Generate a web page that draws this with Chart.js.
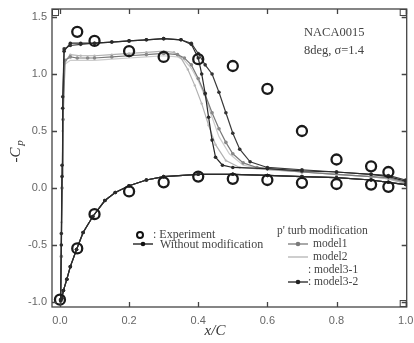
<!DOCTYPE html>
<html>
<head>
<meta charset="utf-8">
<script src="https://cdn.jsdelivr.net/npm/chart.js@4"></script>
<style>
  html, body { margin: 0; padding: 0; background: #fff; }
  canvas { display: block; }
</style>
</head>
<body>
<canvas id="cp" width="414" height="343"></canvas>
<script>
// tick values
const xTicks = [0, 0.2, 0.4, 0.6, 0.8, 1.0]
const yTicks = [-1.0, -0.5, 0.0, 0.5, 1.0, 1.5]

// experiment (open circles)
const expUpperX = [0.05, 0.1, 0.2, 0.3, 0.4, 0.5, 0.6, 0.7, 0.8, 0.9, 0.95]
const expUpperY = [1.37, 1.29, 1.20, 1.15, 1.13, 1.07, 0.87, 0.50, 0.25, 0.19, 0.14]
const expLowerX = [0.0, 0.05, 0.1, 0.2, 0.3, 0.4, 0.5, 0.6, 0.7, 0.8, 0.9, 0.95]
const expLowerY = [-0.98, -0.53, -0.23, -0.03, 0.05, 0.10, 0.08, 0.07, 0.045, 0.035, 0.03, 0.01]

// lower (pressure) side, common to all computations, trailing edge -> leading edge
const lowerX = [1.0, 0.95, 0.9, 0.8, 0.7, 0.6, 0.5, 0.4, 0.3, 0.25, 0.2, 0.16, 0.13, 0.095, 0.067, 0.048, 0.03, 0.02, 0.01, 0.005, 0.002]
const lowerY = [0.03, 0.05, 0.07, 0.09, 0.10, 0.11, 0.12, 0.12, 0.10, 0.07, 0.02, -0.04, -0.11, -0.25, -0.39, -0.54, -0.69, -0.80, -0.90, -0.97, -0.99]

// upper (suction) side of each computation, leading edge -> trailing edge
const noModX = [0.002, 0.004, 0.006, 0.008, 0.012, 0.03, 0.06, 0.1, 0.15, 0.2, 0.25, 0.3, 0.35, 0.38, 0.40, 0.41, 0.42, 0.43, 0.44, 0.45, 0.47, 0.5, 0.6, 0.7, 0.8, 0.9, 0.95, 1.0]
const noModY = [-0.98, -0.5, 0.1, 0.7, 1.2, 1.27, 1.27, 1.27, 1.28, 1.29, 1.30, 1.31, 1.30, 1.26, 1.14, 1.0, 0.83, 0.62, 0.42, 0.27, 0.20, 0.18, 0.17, 0.15, 0.14, 0.12, 0.10, 0.06]

const model1X = [0.002, 0.004, 0.006, 0.009, 0.015, 0.03, 0.05, 0.08, 0.1, 0.15, 0.2, 0.25, 0.3, 0.34, 0.36, 0.38, 0.40, 0.42, 0.44, 0.46, 0.48, 0.50, 0.53, 0.57, 0.6, 0.7, 0.8, 0.9, 0.95, 1.0]
const model1Y = [-0.98, -0.6, 0.0, 0.6, 1.12, 1.15, 1.14, 1.14, 1.14, 1.15, 1.16, 1.17, 1.18, 1.17, 1.14, 1.08, 0.96, 0.82, 0.66, 0.52, 0.40, 0.30, 0.22, 0.18, 0.17, 0.14, 0.12, 0.10, 0.09, 0.05]

const model2X = [0.002, 0.005, 0.008, 0.012, 0.03, 0.06, 0.1, 0.15, 0.2, 0.25, 0.3, 0.33, 0.35, 0.37, 0.39, 0.41, 0.43, 0.45, 0.48, 0.52, 0.6, 0.7, 0.8, 0.9, 0.95, 1.0]
const model2Y = [-0.98, -0.3, 0.5, 1.1, 1.17, 1.16, 1.16, 1.17, 1.18, 1.19, 1.20, 1.19, 1.14, 1.04, 0.90, 0.74, 0.55, 0.38, 0.24, 0.18, 0.16, 0.14, 0.12, 0.10, 0.08, 0.04]

const model31X = [0.002, 0.005, 0.008, 0.012, 0.03, 0.06, 0.1, 0.15, 0.2, 0.25, 0.3, 0.34, 0.36, 0.38, 0.40, 0.42, 0.44, 0.46, 0.49, 0.53, 0.6, 0.7, 0.8, 0.9, 0.95, 1.0]
const model31Y = [-0.98, -0.3, 0.5, 1.08, 1.12, 1.12, 1.12, 1.13, 1.14, 1.15, 1.16, 1.15, 1.12, 1.05, 0.94, 0.80, 0.62, 0.45, 0.30, 0.20, 0.16, 0.14, 0.12, 0.10, 0.08, 0.04]

const model32X = [0.002, 0.004, 0.006, 0.008, 0.012, 0.03, 0.06, 0.1, 0.15, 0.2, 0.25, 0.3, 0.35, 0.38, 0.40, 0.42, 0.44, 0.46, 0.48, 0.50, 0.52, 0.55, 0.6, 0.7, 0.8, 0.9, 0.95, 1.0]
const model32Y = [-0.98, -0.4, 0.2, 0.8, 1.22, 1.25, 1.26, 1.27, 1.28, 1.29, 1.30, 1.31, 1.30, 1.27, 1.18, 1.08, 1.00, 0.84, 0.66, 0.48, 0.34, 0.23, 0.18, 0.16, 0.14, 0.12, 0.11, 0.07]

function pts(xs, ys) {
    return xs.map((x, i) => ({x: x, y: ys[i]}))
}
function around(upX, upY) {
    return pts(lowerX, lowerY).concat(pts(upX, upY))
}

const serif = '"Liberation Serif", "DejaVu Serif", serif'
const sans = '"Liberation Sans", Arial, sans-serif'

function line(data, color, width, radius, ptColor) {
    return {
        data: data,
        showLine: true,
        borderColor: color,
        borderWidth: width,
        pointRadius: radius,
        pointBackgroundColor: ptColor,
        pointBorderColor: ptColor,
        pointBorderWidth: 0,
        tension: 0
    }
}

const frame = {
    id: 'frame',
    afterDraw(chart) {
        const ctx = chart.ctx
        const a = chart.chartArea
        const sx = chart.scales.x, sy = chart.scales.y
        ctx.save()
        ctx.strokeStyle = '#444'
        ctx.lineWidth = 1.3
        ctx.strokeRect(a.left, a.top, a.right - a.left, a.bottom - a.top)
        // inward ticks on all four sides
        ctx.beginPath()
        xTicks.forEach(v => {
            const p = Math.round(sx.getPixelForValue(v)) + 0.5
            ctx.moveTo(p, a.bottom); ctx.lineTo(p, a.bottom - 5)
            ctx.moveTo(p, a.top); ctx.lineTo(p, a.top + 5)
        })
        yTicks.forEach(v => {
            const p = Math.round(sy.getPixelForValue(v)) + 0.5
            ctx.moveTo(a.left, p); ctx.lineTo(a.left + 5, p)
            ctx.moveTo(a.right, p); ctx.lineTo(a.right - 5, p)
        })
        ctx.stroke()
        // little corner boxes
        ctx.lineWidth = 1
        ctx.strokeRect(a.left + 0.5, a.top + 0.5, 6, 6)
        ctx.strokeRect(a.right - 6.5, a.top + 0.5, 6, 6)
        ctx.strokeRect(a.right - 6.5, a.bottom - 6.5, 6, 6)

        // tick labels
        ctx.fillStyle = '#666'
        ctx.font = '11px ' + sans
        ctx.textAlign = 'center'
        ctx.textBaseline = 'middle'
        xTicks.forEach(v => ctx.fillText(v.toFixed(1), sx.getPixelForValue(v), a.bottom + 14))
        ctx.textAlign = 'right'
        yTicks.forEach(v => ctx.fillText(v.toFixed(1), a.left - 5, sy.getPixelForValue(v)))

        // axis titles
        ctx.fillStyle = '#333'
        ctx.font = 'italic 15px ' + serif
        ctx.textAlign = 'center'
        ctx.fillText('x/C', 215, 331)
        ctx.save()
        ctx.translate(16, 152)
        ctx.rotate(-Math.PI / 2)
        ctx.fillText('-C', -3, 0)
        ctx.font = 'italic 11px ' + serif
        ctx.fillText('p', 9, 4)
        ctx.restore()

        // case label
        ctx.font = '12.5px ' + serif
        ctx.textAlign = 'left'
        ctx.fillStyle = '#444'
        ctx.fillText('NACA0015', 304, 33)
        ctx.fillText('8deg, \u03c3=1.4', 304, 51)

        // legend
        ctx.font = '12px ' + serif
        ctx.fillStyle = '#444'
        ctx.strokeStyle = '#111'
        ctx.lineWidth = 2
        ctx.beginPath(); ctx.arc(140, 235, 3, 0, Math.PI * 2); ctx.stroke()
        ctx.fillText(': Experiment', 153, 235)
        ctx.lineWidth = 1.3
        ctx.beginPath(); ctx.moveTo(133, 244); ctx.lineTo(153, 244); ctx.stroke()
        ctx.fillStyle = '#111'
        ctx.beginPath(); ctx.arc(143, 244, 2.3, 0, Math.PI * 2); ctx.fill()
        ctx.fillStyle = '#444'
        ctx.fillText('Without modification', 160, 245)

        ctx.font = '11.5px ' + serif
        ctx.fillText("p' turb modification", 277, 231)
        const keys = [
            ['model1', '#7a7a7a', 2.3, 244],
            ['model2', '#b4b4b4', 0, 257],
            [': model3-1', '#d0d0d0', 0, 270],
            [': model3-2', '#222', 2.3, 282]
        ]
        keys.forEach(k => {
            if (k[0][0] !== ':' || k[2] > 0) {
                ctx.strokeStyle = k[1]
                ctx.lineWidth = 1.3
                ctx.beginPath(); ctx.moveTo(288, k[3]); ctx.lineTo(308, k[3]); ctx.stroke()
                if (k[2] > 0) {
                    ctx.fillStyle = k[1]
                    ctx.beginPath(); ctx.arc(298, k[3], k[2], 0, Math.PI * 2); ctx.fill()
                }
            }
            ctx.fillStyle = '#444'
            ctx.fillText(k[0], k[0][0] === ':' ? 308 : 313, k[3])
        })
        ctx.restore()
    }
}

new Chart(document.getElementById('cp'), {
    type: 'scatter',
    data: {
        datasets: [
            {
                label: 'Experiment',
                data: pts(expUpperX, expUpperY).concat(pts(expLowerX, expLowerY)),
                showLine: false,
                pointRadius: 5,
                pointBorderWidth: 2.3,
                pointBorderColor: '#1a1a1a',
                pointBackgroundColor: 'rgba(255,255,255,0)'
            },
            Object.assign({label: 'Without modification'}, line(around(noModX, noModY), '#2a2a2a', 1.2, 1.8, '#2a2a2a')),
            Object.assign({label: 'model3-2'}, line(around(model32X, model32Y), '#3a3a3a', 1.2, 1.8, '#333')),
            Object.assign({label: 'model1'}, line(around(model1X, model1Y), '#7a7a7a', 1.2, 1.8, '#888')),
            Object.assign({label: 'model2'}, line(around(model2X, model2Y), '#b0b0b0', 1.2, 1.2, '#b8b8b8')),
            Object.assign({label: 'model3-1'}, line(around(model31X, model31Y), '#cccccc', 1.2, 0, '#ccc'))
        ]
    },
    options: {
        responsive: false,
        animation: false,
        devicePixelRatio: 1,
        layout: {padding: {left: 52, right: 6, top: 9, bottom: 36}},
        plugins: {legend: {display: false}, tooltip: {enabled: false}},
        scales: {
            x: {type: 'linear', display: false, min: -0.023, max: 1.003},
            y: {type: 'linear', display: false, min: -1.044, max: 1.57}
        }
    },
    plugins: [frame]
})
</script>
</body>
</html>
